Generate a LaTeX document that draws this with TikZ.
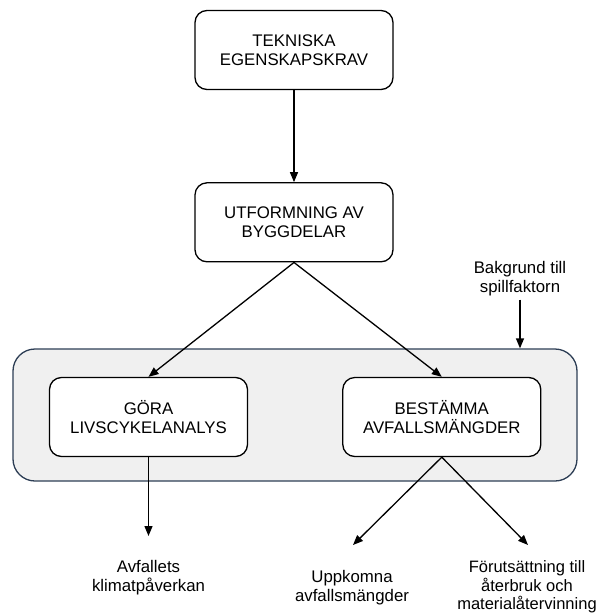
\documentclass[tikz,border=0pt]{standalone}
\usepackage{fontspec}
\setmainfont{Liberation Sans}
\usetikzlibrary{arrows.meta, positioning}
\definecolor{ramblue}{RGB}{45,62,85}
\definecolor{ramgray}{RGB}{240,240,240}

\begin{document}
\begin{tikzpicture}[
    x=1pt, y=-1pt,
    node distance=92pt,
    box/.style={draw, rounded corners=12pt, line width=1.3pt, fill=white,
                minimum width=198pt, minimum height=79pt, align=center,
                font=\fontsize{16.8}{19}\selectfont},
    note/.style={align=center, inner sep=0pt, font=\fontsize{16.8}{19}\selectfont},
    arr/.style={-{Triangle[length=10pt,width=8pt]}, line width=1.3pt}
  ]
    \useasboundingbox (0,0) rectangle (602,614);
    \node[draw=ramblue, fill=ramgray, line width=1.3pt, rounded corners=22pt,
          minimum width=564pt, minimum height=132pt] (ram) at (295,415) {};
    \node[box] (tekniska) at (294,50) {TEKNISKA\\EGENSKAPSKRAV};
    \node[box, below=of tekniska] (utformning) {UTFORMNING AV\\BYGGDELAR};
    \node[box] (gora) at (148.5,417) {GÖRA\\LIVSCYKELANALYS};
    \node[box, right=94pt of gora] (bestamma) {BESTÄMMA\\AVFALLSMÄNGDER};
    \node[note] (bakgrund) at (520,279) {Bakgrund till\\spillfaktorn};
    \node[note] (avfallets) at (148.5,578) {Avfallets\\klimatpåverkan};
    \node[note] (uppkomna) at (352,587.5) {Uppkomna\\avfallsmängder};
    \node[note, font=\fontsize{16.5}{18.4}\selectfont] (forutsattning) at (527,587)
      {Förutsättning till\\återbruk och\\materialåtervinning};
    \coordinate (avf-pil) at (148.5,536);
    \coordinate (upp-pil) at (353,545);
    \coordinate (for-pil) at (528,545);
    \draw[arr] (tekniska) -- (utformning);
    \draw[arr] (utformning.south) -- (gora.north);
    \draw[arr] (utformning.south) -- (bestamma.north);
    \draw[arr, shorten <=3pt] (bakgrund.south) -- (bakgrund.south |- ram.north);
    \draw[arr] (gora.south) -- (avf-pil);
    \draw[arr] (bestamma.south) -- (upp-pil);
    \draw[arr] (bestamma.south) -- (for-pil);
  \end{tikzpicture}
\end{document}
